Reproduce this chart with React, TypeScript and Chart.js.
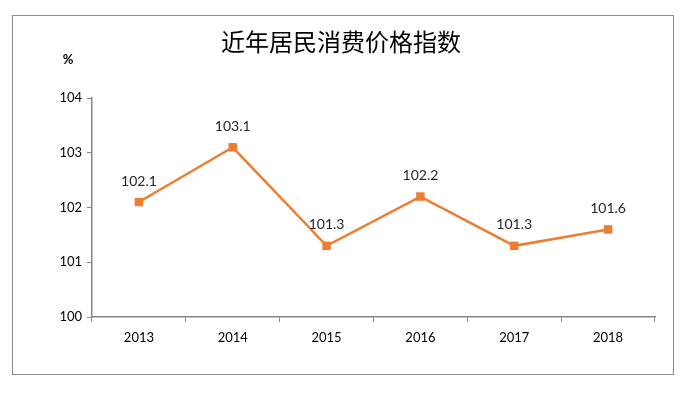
import React, { useEffect, useRef } from "react";
import { Chart, registerables } from "chart.js";

Chart.register(...registerables);

const title = "近年居民消费价格指数";
const unitLabel = "%";
const years = ["2013", "2014", "2015", "2016", "2017", "2018"];
const cpi = [102.1, 103.1, 101.3, 102.2, 101.3, 101.6];
const yMin = 100;
const yMax = 104;

const AXIS = "#868686";
const ORANGE = "#ED7D31";
const TEXT = "#262626";
const FONT = "Lato, 'Liberation Sans', sans-serif";

const decorPlugin = {
  id: "decor",
  beforeDraw(chart: any) {
    const ctx = chart.ctx;
    ctx.save();
    ctx.fillStyle = "#ffffff";
    ctx.fillRect(0, 0, chart.width, chart.height);
    ctx.strokeStyle = "#8c8c8c";
    ctx.lineWidth = 1;
    ctx.strokeRect(12.5, 15.5, 661, 359);
    ctx.fillStyle = "#000000";
    ctx.font = "24px 'Noto Sans CJK SC', sans-serif";
    ctx.textAlign = "center";
    ctx.textBaseline = "middle";
    ctx.fillText(title, 341, 42);
    ctx.font = "bold 13px " + FONT;
    ctx.fillText(unitLabel, 68, 60);
    ctx.restore();
  },
  afterDatasetsDraw(chart: any) {
    const ctx = chart.ctx;
    const meta = chart.getDatasetMeta(0);
    ctx.save();
    ctx.fillStyle = TEXT;
    ctx.font = "14px " + FONT;
    ctx.textAlign = "center";
    ctx.textBaseline = "middle";
    meta.data.forEach((pt: any, i: number) => {
      ctx.fillText(cpi[i].toFixed(1), pt.x, pt.y - 21);
    });
    ctx.restore();
  },
};

export default function App() {
  const ref = useRef<HTMLCanvasElement>(null);
  useEffect(() => {
    const chart = new Chart(ref.current!, {
      type: "line",
      data: {
        labels: years,
        datasets: [
          {
            data: cpi,
            borderColor: ORANGE,
            backgroundColor: ORANGE,
            borderWidth: 2.5,
            pointStyle: "rect",
            pointRadius: 6,
            pointBorderWidth: 0,
            tension: 0,
          },
        ],
      },
      options: {
        responsive: false,
        animation: false,
        layout: { padding: { left: 0, top: 98, right: 30, bottom: 0 } },
        plugins: { legend: { display: false }, title: { display: false }, tooltip: { enabled: false } },
        scales: {
          x: {
            offset: true,
            grid: { offset: true, drawOnChartArea: false, drawTicks: true, tickLength: 5, color: AXIS },
            border: { display: true, color: AXIS, width: 1.5 },
            ticks: { color: "#000", font: { family: FONT, size: 13 }, padding: 8, maxRotation: 0 },
            afterFit: (s: any) => {
              s.height = 76;
            },
          },
          y: {
            min: yMin,
            max: yMax,
            grid: { drawOnChartArea: false, drawTicks: true, tickLength: 5, color: AXIS },
            border: { display: true, color: AXIS, width: 1.5 },
            ticks: { stepSize: 1, color: "#000", font: { family: FONT, size: 13 }, padding: 5 },
            afterFit: (s: any) => {
              s.width = 92;
            },
          },
        },
      },
      plugins: [decorPlugin],
    });
    return () => chart.destroy();
  }, []);
  return (
    <div style={{ position: "absolute", left: 0, top: 0, width: 685, height: 393 }}>
      <canvas ref={ref} width={685} height={393} style={{ width: 685, height: 393 }} />
    </div>
  );
}
